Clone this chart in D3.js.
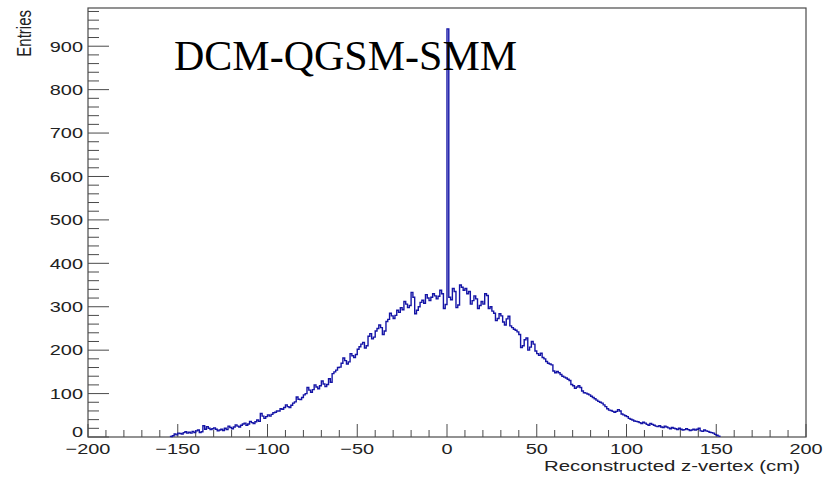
<!DOCTYPE html>
<html><head><meta charset="utf-8">
<script src="https://cdn.jsdelivr.net/npm/d3@7"></script>
<style>html,body{margin:0;padding:0;background:#fff;}svg{display:block;}</style>
</head><body>
<svg id="c" width="826" height="479"></svg>
<script>
// ---- data ----
const binWidth = 1; // cm
const binLow = d3.range(-154, 152, 1); // lower edges of the filled bins
const counts = [
  // -154 .. -145
  1, 3, 7, 5, 9, 8, 7, 10, 12, 9,
  // -144 .. -135
  11, 9, 13, 10, 14, 16, 10, 12, 26, 18,
  // -134 .. -125
  24, 20, 17, 19, 21, 18, 14, 16, 18, 15,
  // -124 .. -115
  20, 17, 25, 22, 19, 23, 28, 25, 23, 27,
  // -114 .. -105
  30, 32, 27, 30, 36, 33, 31, 35, 39, 36,
  // -104 .. -95
  54, 48, 43, 47, 51, 48, 52, 56, 57, 60,
  // -94 .. -85
  60, 65, 64, 68, 74, 70, 68, 73, 78, 81,
  // -84 .. -75
  92, 87, 86, 91, 97, 100, 114, 108, 103, 109,
  // -74 .. -65
  120, 115, 111, 118, 129, 122, 116, 121, 134, 126,
  // -64 .. -55
  146, 150, 154, 160, 161, 170, 182, 176, 168, 173,
  // -54 .. -45
  192, 187, 183, 190, 202, 208, 214, 218, 205, 210,
  // -44 .. -35
  232, 238, 226, 230, 244, 250, 258, 252, 236, 244,
  // -34 .. -25
  266, 271, 285, 279, 273, 280, 292, 287, 298, 293,
  // -24 .. -15
  312, 306, 298, 303, 333, 322, 284, 292, 300, 310,
  // -14 .. -5
  315, 308, 328, 320, 314, 322, 330, 325, 318, 324,
  // -4 .. -1
  338, 330, 296, 305,
  // 0 .. 4
  940, 322, 316, 342, 335,
  // 5 .. 14
  298, 304, 350, 345, 338, 342, 330, 335, 306, 314,
  // 15 .. 24
  325, 318, 296, 303, 312, 306, 330, 326, 296, 300,
  // 25 .. 34
  290, 285, 268, 273, 284, 279, 265, 258, 272, 278,
  // 35 .. 44
  256, 252, 248, 246, 242, 236, 206, 210, 224, 228,
  // 45 .. 54
  200, 207, 220, 214, 198, 192, 188, 193, 183, 180,
  // 55 .. 64
  174, 170, 168, 166, 152, 148, 151, 148, 144, 140,
  // 65 .. 74
  138, 136, 133, 130, 121, 118, 112, 115, 118, 114,
  // 75 .. 84
  106, 102, 101, 99, 97, 94, 91, 88, 85, 82,
  // 85 .. 94
  80, 78, 74, 70, 65, 62, 61, 59, 57, 59,
  // 95 .. 104
  63, 60, 53, 51, 49, 47, 43, 41, 39, 37,
  // 105 .. 114
  36, 35, 33, 31, 34, 32, 29, 27, 31, 29,
  // 115 .. 124
  27, 25, 24, 26, 23, 22, 25, 23, 21, 19,
  // 125 .. 134
  22, 20, 19, 17, 20, 18, 16, 17, 19, 17,
  // 135 .. 144
  15, 16, 18, 16, 18, 20, 14, 13, 16, 14,
  // 145 .. 151
  13, 11, 10, 9, 6, 4, 2
];
const xMajorTicks = [-200, -150, -100, -50, 0, 50, 100, 150, 200];
const xTickLabels = ["\u2212200", "\u2212150", "\u2212100", "\u221250", "0", "50", "100", "150", "200"];
const yMajorTicks = [0, 100, 200, 300, 400, 500, 600, 700, 800, 900];
const yTickLabels = ["0", "100", "200", "300", "400", "500", "600", "700", "800", "900"];
const xDomain = [-200, 200];
const yDomain = [0, 988];
const modelLabel = "DCM-QGSM-SMM";
const xTitle = "Reconstructed z-vertex (cm)";
const yTitle = "Entries";

// ---- layout ----
const L = 88, R = 806, T = 8, B = 437;
const svg = d3.select("#c");
const x = d3.scaleLinear().domain(xDomain).range([L, R]);
const y = d3.scaleLinear().domain(yDomain).range([B, T]);
const axisColor = "#4a4a4a";
const textColor = "#222";
const sx = 1.33;

// frame
svg.append("rect").attr("x", L).attr("y", T).attr("width", R - L).attr("height", B - T)
  .attr("fill", "none").attr("stroke", axisColor).attr("stroke-width", 1.2);

// x ticks
const xMinor = d3.range(-190, 200, 10).filter(v => v % 50 !== 0);
svg.append("g").selectAll("line").data(xMinor).join("line")
  .attr("x1", d => x(d)).attr("x2", d => x(d)).attr("y1", B).attr("y2", B - 7)
  .attr("stroke", axisColor).attr("stroke-width", 1);
svg.append("g").selectAll("line").data(xMajorTicks).join("line")
  .attr("x1", d => x(d)).attr("x2", d => x(d)).attr("y1", B).attr("y2", B - 13)
  .attr("stroke", axisColor).attr("stroke-width", 1);

// y ticks
const yMinor = d3.range(20, 1000, 20).filter(v => v % 100 !== 0 && v <= yDomain[1]);
svg.append("g").selectAll("line").data(yMinor).join("line")
  .attr("x1", L).attr("x2", L + 11).attr("y1", d => y(d)).attr("y2", d => y(d))
  .attr("stroke", axisColor).attr("stroke-width", 1);
svg.append("g").selectAll("line").data(yMajorTicks).join("line")
  .attr("x1", L).attr("x2", L + 21).attr("y1", d => y(d)).attr("y2", d => y(d))
  .attr("stroke", axisColor).attr("stroke-width", 1);

const font = "'Liberation Sans', Arial, Helvetica, sans-serif";
// x labels
svg.append("g").selectAll("text").data(xMajorTicks).join("text")
  .attr("transform", d => `translate(${x(d)},454) scale(${sx},1)`)
  .attr("text-anchor", "middle").attr("font-family", font).attr("font-size", 15)
  .attr("fill", textColor).text((d, i) => xTickLabels[i]);
// y labels
svg.append("g").selectAll("text").data(yMajorTicks).join("text")
  .attr("transform", (d, i) => `translate(83,${y(d) + (i === 0 ? 0 : 5.3)}) scale(${sx},1)`)
  .attr("text-anchor", "end").attr("font-family", font).attr("font-size", 15)
  .attr("fill", textColor).text((d, i) => yTickLabels[i]);

// axis titles
svg.append("text").attr("transform", `translate(800,471) scale(1.36,1)`)
  .attr("text-anchor", "end").attr("font-family", font).attr("font-size", 15)
  .attr("fill", textColor).text(xTitle);
svg.append("text").attr("transform", `translate(31,10) rotate(-90) scale(1,1.3)`)
  .attr("text-anchor", "end").attr("font-family", font).attr("font-size", 15)
  .attr("fill", textColor).text(yTitle);

// histogram outline
const pts = [[binLow[0], 0]];
binLow.forEach((lo, i) => { pts.push([lo, counts[i]]); pts.push([lo + binWidth, counts[i]]); });
pts.push([binLow[binLow.length - 1] + binWidth, 0]);
const line = d3.line().x(d => x(d[0])).y(d => y(d[1]));
svg.append("path").attr("d", line(pts)).attr("fill", "none")
  .attr("stroke", "#1414a6").attr("stroke-width", 1.4).attr("stroke-linejoin", "miter");

// model label
svg.append("text").attr("x", 174).attr("y", 70)
  .attr("font-family", "'Liberation Serif', 'Times New Roman', serif").attr("font-size", 42)
  .attr("fill", "#000").text(modelLabel);
</script>
</body></html>
